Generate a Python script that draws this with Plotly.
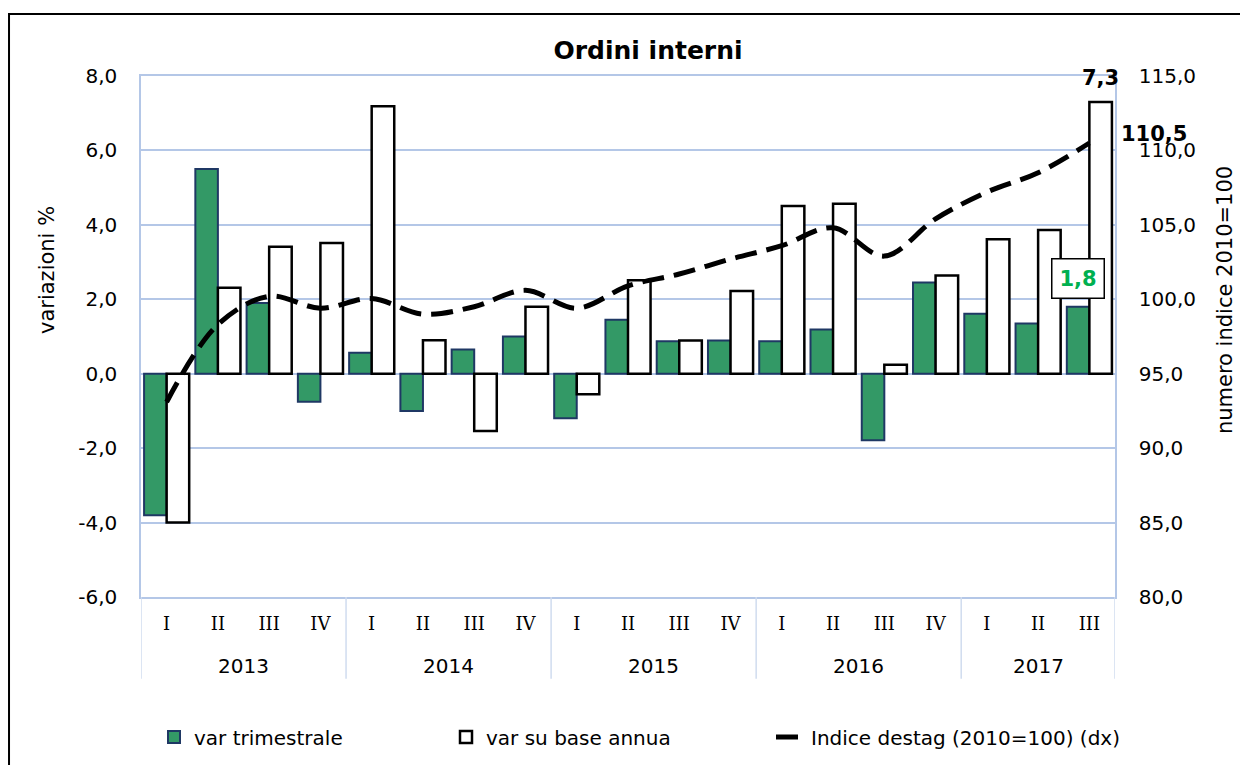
import plotly.graph_objects as go

# ---- data ----
years = ["2013", "2014", "2015", "2016", "2017"]
quarters = ["I", "II", "III", "IV",
            "I", "II", "III", "IV",
            "I", "II", "III", "IV",
            "I", "II", "III", "IV",
            "I", "II", "III"]
year_of_point = ["2013"] * 4 + ["2014"] * 4 + ["2015"] * 4 + ["2016"] * 4 + ["2017"] * 3

var_trimestrale = [-3.8, 5.5, 1.9, -0.75,
                   0.56, -1.0, 0.65, 1.0,
                   -1.2, 1.45, 0.87, 0.89,
                   0.87, 1.19, -1.79, 2.45,
                   1.61, 1.35, 1.8]
var_annua = [-4.0, 2.31, 3.41, 3.51,
             7.19, 0.9, -1.54, 1.8,
             -0.55, 2.51, 0.89, 2.22,
             4.51, 4.57, 0.24, 2.64,
             3.61, 3.86, 7.3]
indice = [93.1, 98.3, 100.2, 99.4,
          100.05, 99.0, 99.5, 100.6,
          99.4, 100.9, 101.7, 102.7,
          103.6, 104.8, 102.9, 105.4,
          107.2, 108.5, 110.5]

left_ticks = [-6, -4, -2, 0, 2, 4, 6, 8]
right_ticks = [80, 85, 90, 95, 100, 105, 110, 115]

names = ["var trimestrale", "var su base annua", "Indice destag (2010=100) (dx)"]
title_text = "Ordini interni"
left_title = "variazioni %"
right_title = "numero indice 2010=100"

x = list(range(len(quarters)))


def fmt(v):
    return f"{v:.1f}".replace(".", ",")


GRID = "#b4c7e7"
FONT = "DejaVu Sans"
FS = 21

fig = go.Figure()
fig.add_trace(go.Bar(x=x, y=var_trimestrale, name=names[0], yaxis="y", legend="legend",
                     showlegend=True,
                     marker=dict(color="#339966", line=dict(color="#1f3864", width=2))))
fig.add_trace(go.Bar(x=x, y=var_annua, name=names[1], yaxis="y", legend="legend2",
                     showlegend=True,
                     marker=dict(color="#ffffff", line=dict(color="#000000", width=2.5))))
fig.add_trace(go.Scatter(x=x, y=indice, name=names[2], yaxis="y2", mode="lines", legend="legend3",
                         showlegend=True,
                         line=dict(color="#000000", width=5, dash="22px,10px",
                                   shape="spline", smoothing=1.0)))

# year labels & dividers
annotations = []
shapes = []
starts = []
for yr in years:
    idx = [i for i, v in enumerate(year_of_point) if v == yr]
    starts.append(idx[0])
    annotations.append(dict(x=sum(idx) / len(idx), y=-0.1324, xref="x", yref="paper",
                            text=yr, showarrow=False, yanchor="middle",
                            font=dict(family=FONT, size=FS - 1, color="#000")))
bounds = [s - 0.5 for s in starts] + [len(x) - 0.5]
for b in bounds:
    shapes.append(dict(type="line", xref="x", yref="paper", x0=b, x1=b, y0=0, y1=-0.157,
                       line=dict(color="#d0dcef", width=1.5)))

last = len(x) - 1
annotations += [
    dict(x=x[last], y=var_annua[last], xref="x", yref="y", text="<b>" + fmt(var_annua[last]) + "</b>",
         showarrow=False, xshift=11, yanchor="bottom", yshift=10,
         font=dict(family=FONT, size=FS, color="#000")),
    dict(x=x[last], y=indice[last], xref="x", yref="y2", text="<b>" + fmt(indice[last]) + "</b>",
         showarrow=False, xanchor="left", xshift=30, yshift=9,
         font=dict(family=FONT, size=FS, color="#000")),
    dict(x=x[last], y=var_trimestrale[last], xref="x", yref="y", text="<b>" + fmt(var_trimestrale[last]) + "</b>",
         showarrow=False, xshift=-11, yanchor="bottom", yshift=8,
         bgcolor="#ffffff", bordercolor="#000000", borderwidth=1.5, borderpad=7,
         font=dict(family=FONT, size=FS, color="#00b050")),
    dict(x=-0.0965, y=0.6276, xref="paper", yref="paper", text=left_title, textangle=-90,
         xanchor="center", yanchor="middle",
         showarrow=False, font=dict(family=FONT, size=FS, color="#000")),
    dict(x=1.113, y=0.570, xref="paper", yref="paper", text=right_title, textangle=-90,
         xanchor="center", yanchor="middle",
         showarrow=False, font=dict(family=FONT, size=FS, color="#000")),
]

# outer chart border
shapes.append(dict(type="rect", xref="paper", yref="paper", x0=-0.1355, x1=1.2, y0=-0.4, y1=1.119,
                   line=dict(color="#000", width=2), fillcolor="rgba(0,0,0,0)"))

legend_common = dict(orientation="h", xref="container", yref="container",
                     xanchor="left", y=1 - 737 / 765, yanchor="middle",
                     font=dict(family=FONT, size=FS - 1, color="#000"),
                     bgcolor="rgba(0,0,0,0)", visible=True)

fig.update_layout(
    width=1240, height=765,
    showlegend=True,
    margin=dict(l=141, r=125, t=76, b=168, pad=0, autoexpand=False),
    paper_bgcolor="#ffffff", plot_bgcolor="#ffffff",
    separators=",.",
    barmode="group", bargap=0.12, bargroupgap=0,
    title=dict(text="<b>" + title_text + "</b>", x=648 / 1240, xref="container", xanchor="center",
               y=1 - 50 / 765, yref="container", yanchor="middle",
               font=dict(family=FONT, size=25, color="#000")),
    font=dict(family=FONT, size=FS, color="#000"),
    xaxis=dict(range=[-0.5, len(x) - 0.5], tickvals=x, ticktext=quarters,
               showgrid=False, zeroline=False, showline=True, linecolor=GRID, linewidth=1.5, mirror=True,
               ticks="outside", ticklen=10, tickcolor="rgba(0,0,0,0)",
               tickfont=dict(family="DejaVu Serif", size=18, color="#000")),
    yaxis=dict(range=[left_ticks[0], left_ticks[-1]], tickvals=left_ticks,
               ticktext=[fmt(v) for v in left_ticks],
               showgrid=True, gridcolor=GRID, gridwidth=1.5,
               zeroline=True, zerolinecolor=GRID, zerolinewidth=1.5,
               showline=True, linecolor=GRID, linewidth=1.5,
               ticks="outside", ticklen=18, tickcolor="rgba(0,0,0,0)",
               tickfont=dict(family=FONT, size=FS - 1, color="#000")),
    yaxis2=dict(range=[right_ticks[0], right_ticks[-1]], tickvals=right_ticks,
                ticktext=[fmt(v) for v in right_ticks], overlaying="y", side="right",
                showgrid=False, zeroline=False, showline=True, linecolor=GRID, linewidth=1.5,
                ticks="outside", ticklen=18, tickcolor="rgba(0,0,0,0)",
                tickfont=dict(family=FONT, size=FS - 1, color="#000")),
    legend=dict(legend_common, x=154 / 1240),
    legend2=dict(legend_common, x=446 / 1240),
    legend3=dict(legend_common, x=771 / 1240),
    annotations=annotations,
    shapes=shapes,
)

fig.write_html("out.html", config={"displayModeBar": False},
               post_script="document.body.style.margin='0';document.body.style.overflow='hidden';")
